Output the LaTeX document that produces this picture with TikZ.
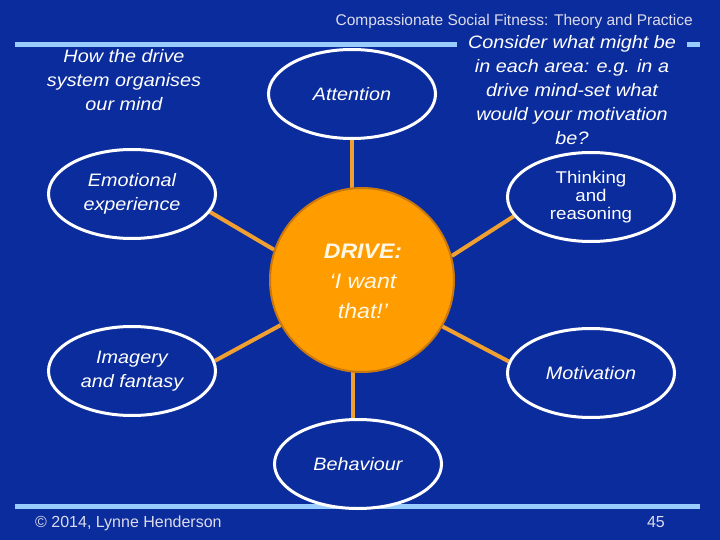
\documentclass[tikz,border=0pt]{standalone}
\usepackage{fontspec}
\setmainfont{Liberation Sans}
\newfontfamily\wide[FakeStretch=1.1]{Liberation Sans}
\usetikzlibrary{shapes.geometric}
\definecolor{bg}{HTML}{0B2C9C}
\definecolor{rulecol}{HTML}{99CCFF}
\definecolor{drivefill}{HTML}{FF9C00}
\definecolor{driveedge}{HTML}{C8780E}
\definecolor{linkcol}{HTML}{F0A030}
\definecolor{titlecol}{HTML}{DCDCEC}
\definecolor{drivetext}{HTML}{FFF8E6}
\pgfdeclarelayer{bottom}
\pgfdeclarelayer{links}
\pgfsetlayers{bottom,links,main}
\begin{document}
\begin{tikzpicture}[x=1pt,y=-1pt,
  oval/.style={ellipse, draw=white, line width=3pt, fill=bg,
    minimum width=167pt, minimum height=89pt, inner sep=0pt,
    text=white, align=center,
    font=\wide\itshape\fontsize{18}{24}\selectfont},
  linkline/.style={draw=linkcol, line width=4pt},
  rulebar/.style={draw=rulecol, line width=5pt},
  plaintext/.style={text=white, align=center, inner sep=0pt,
    font=\wide\itshape\fontsize{18}{24}\selectfont},
  smalltext/.style={text=titlecol, inner sep=0pt,
    font=\fontsize{15.5}{18}\selectfont}
]
\begin{pgfonlayer}{bottom}
\fill[bg] (0,0) rectangle (720,540);
\draw[rulebar] (15,45) -- (700,45);
\draw[rulebar] (15,506) -- (700,506);
\end{pgfonlayer}
\useasboundingbox (0,0) rectangle (720,540);

% title and footer
\node[smalltext, anchor=base east] (title) at (693,26)
  {Compassionate Social Fitness: Theory and Practice};
\node[smalltext, anchor=base west, font=\fontsize{16}{18}\selectfont] (copy) at (35,527)
  {© 2014, Lynne Henderson};
\node[smalltext, anchor=base east, font=\fontsize{16}{18}\selectfont] (page) at (665,527) {45};

% side texts
\node[plaintext] (howtext) at (124,80)
  {How the drive\\system organises\\our mind};
\node[plaintext, fill=bg, inner xsep=11pt, inner ysep=2pt] (consider) at (572,90)
  {Consider what might be\\in each area: e.g. in a\\drive mind-set what\\would your motivation\\be?};

% ellipses
\node[oval] (att) at (352,94) {Attention};
\node[oval] (emo) at (132,194) {Emotional\\experience};
\node[oval, font=\wide\fontsize{17}{18}\selectfont] (thk) at (591,197) {Thinking\\and\\reasoning};
\node[oval] (img) at (132,371) {Imagery\\and fantasy};
\node[oval] (mot) at (591,373) {Motivation};
\node[oval] (beh) at (358,464) {Behaviour};

% drive circle
\node[circle, fill=drivefill, draw=driveedge, line width=2pt,
  minimum size=184pt, inner sep=0pt] (drive) at (362,280) {};
\node[text=drivetext, align=center, inner sep=0pt,
  font=\wide\itshape\fontsize{21}{30}\selectfont] (drivetxt) at (363,281)
  {{\bfseries DRIVE:}\\‘I want\\that!’};

% connectors
\begin{pgfonlayer}{links}
\draw[linkline] (att.south) -- (att.south |- drive.center);
\draw[linkline] (beh.96) -- (beh.96 |- drive.center);
\draw[linkline] (emo.-13) -- (drive.161);
\draw[linkline] (thk.194) -- (drive.15);
\draw[linkline] (img.7) -- (drive.209);
\draw[linkline] (mot.172) -- (drive.-30);
\end{pgfonlayer}
\end{tikzpicture}
\end{document}
